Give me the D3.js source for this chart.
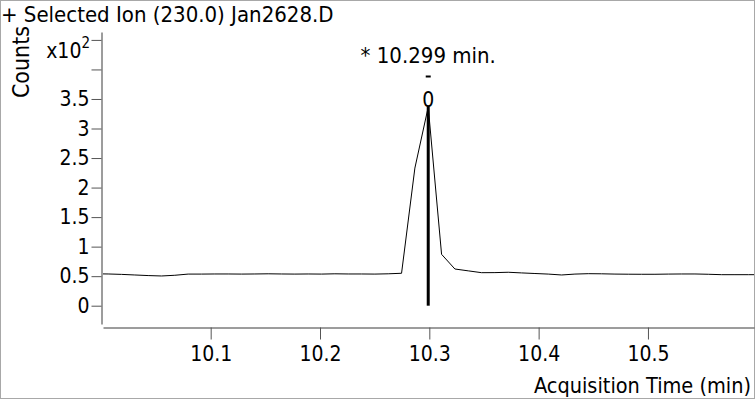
<!DOCTYPE html>
<html>
<head>
<meta charset="utf-8">
<script src="https://cdn.jsdelivr.net/npm/d3@7"></script>
<style>
  html, body { margin: 0; padding: 0; background: #fff; }
  svg { display: block; font-family: "DejaVu Sans Condensed", "DejaVu Sans", sans-serif; }
</style>
</head>
<body>
<svg id="chart" width="756" height="400"></svg>
<script>
// Extracted ion chromatogram, m/z 230.0 (counts in units of 10^2)
const titleText = "+ Selected Ion (230.0) Jan2628.D";
const xAxisTitle = "Acquisition Time (min)";
const yAxisTitle = "Counts";

// Acquisition times (min) of each scan
const scanTimes = [
  9.9940, 10.0062, 10.0184, 10.0306, 10.0428, 10.0550, 10.0672, 10.0794, 10.0916,
  10.1038, 10.1160, 10.1282, 10.1404, 10.1526, 10.1648, 10.1770, 10.1892, 10.2014,
  10.2136, 10.2258, 10.2380, 10.2502, 10.2624, 10.2746, 10.2868, 10.2990, 10.3112,
  10.3234, 10.3356, 10.3478, 10.3600, 10.3722, 10.3844, 10.3966, 10.4088, 10.4210,
  10.4332, 10.4454, 10.4576, 10.4698, 10.4820, 10.4942, 10.5064, 10.5186, 10.5308,
  10.5430, 10.5552, 10.5674, 10.5796, 10.5918, 10.6040
];
// Ion abundance (x10^2 counts) at each scan
const abundance = [
  0.540, 0.537, 0.530, 0.520, 0.510, 0.503, 0.515, 0.535, 0.535,
  0.537, 0.537, 0.535, 0.537, 0.540, 0.537, 0.535, 0.537, 0.535,
  0.540, 0.537, 0.537, 0.535, 0.540, 0.549, 2.330, 3.364, 0.870,
  0.621, 0.590, 0.559, 0.560, 0.566, 0.555, 0.545, 0.535, 0.520,
  0.535, 0.542, 0.540, 0.535, 0.533, 0.532, 0.532, 0.535, 0.537,
  0.537, 0.532, 0.525, 0.525, 0.525, 0.525
];

// Integrated peak
const peakTime = 10.299;
const peakHeight = 3.364;
const peakLabel = "* 10.299 min.";
const peakIndexLabel = "0";

// Axis ticks
const xTicks = [10.1, 10.2, 10.3, 10.4, 10.5];
const yTicks = [0, 0.5, 1, 1.5, 2, 2.5, 3, 3.5, 4, 4.5];
const yTickLabels = ["0", "0.5", "1", "1.5", "2", "2.5", "3", "3.5", "", ""];
const xDomain = [10.0015, 10.597];
const yDomain = [-0.31, 4.634];

const svg = d3.select("#chart");
const axisColor = "#3a3a3a";
const tickFont = 21;
const fontStack = "DejaVu Sans Condensed, DejaVu Sans, sans-serif";

// outer frame
svg.append("rect")
  .attr("x", 0.5).attr("y", 0.5)
  .attr("width", 754).attr("height", 398)
  .attr("fill", "none").attr("stroke", "#a8a8a8").attr("stroke-width", 1);

const x = d3.scaleLinear().domain(xDomain).range([103, 754]);
const y = d3.scaleLinear().domain(yDomain).range([324, 32]);

// Y axis
const yAxis = svg.append("g")
  .attr("transform", "translate(101.5,0)")
  .call(d3.axisLeft(y)
    .tickValues(yTicks)
    .tickFormat((d, i) => yTickLabels[i])
    .tickSize(10)
    .tickSizeOuter(0)
    .tickPadding(2));
yAxis.select(".domain").attr("stroke", axisColor);
yAxis.selectAll(".tick line").attr("stroke", "#555");
yAxis.selectAll(".tick text")
  .attr("font-size", tickFont)
  .attr("font-family", fontStack)
  .attr("fill", "#000");

// exponent label at the top tick
const expLabel = svg.append("text")
  .attr("x", 90)
  .attr("y", y(4.5) + 18)
  .attr("text-anchor", "end")
  .attr("font-size", tickFont)
  .attr("fill", "#000");
expLabel.append("tspan").text("x10");
expLabel.append("tspan")
  .attr("font-size", 15)
  .attr("dy", -10)
  .text("2");

// X axis
const xAxis = svg.append("g")
  .attr("transform", "translate(0,327.5)")
  .call(d3.axisBottom(x)
    .tickValues(xTicks)
    .tickFormat(d3.format(".1f"))
    .tickSize(12)
    .tickSizeOuter(0)
    .tickPadding(7));
xAxis.select(".domain").attr("stroke", axisColor);
xAxis.selectAll(".tick line").attr("stroke", "#555");
xAxis.selectAll(".tick text")
  .attr("font-size", tickFont)
  .attr("font-family", fontStack)
  .attr("fill", "#000");

// Titles
svg.append("text")
  .attr("x", 1).attr("y", 22)
  .attr("font-size", 22)
  .attr("fill", "#000")
  .text(titleText);

svg.append("text")
  .attr("transform", "translate(29,62) rotate(-90)")
  .attr("text-anchor", "middle")
  .attr("font-size", 23)
  .attr("fill", "#000")
  .text(yAxisTitle);

svg.append("text")
  .attr("x", 751).attr("y", 393)
  .attr("text-anchor", "end")
  .attr("font-size", 21.5)
  .attr("fill", "#000")
  .text(xAxisTitle);

// Clip the trace to the plotting region
svg.append("clipPath").attr("id", "plotClip")
  .append("rect").attr("x", 103).attr("y", 0).attr("width", 651).attr("height", 330);

const points = scanTimes.map((t, i) => [t, abundance[i]]);
const line = d3.line().x(d => x(d[0])).y(d => y(d[1]));

svg.append("path")
  .datum(points)
  .attr("clip-path", "url(#plotClip)")
  .attr("d", line)
  .attr("fill", "none")
  .attr("stroke", "#000")
  .attr("stroke-width", 1);

// Peak retention-time marker
svg.append("line")
  .attr("x1", x(peakTime)).attr("x2", x(peakTime))
  .attr("y1", y(0)).attr("y2", y(peakHeight))
  .attr("stroke", "#000")
  .attr("stroke-width", 3);

svg.append("text")
  .attr("x", x(peakTime)).attr("y", y(peakHeight))
  .attr("text-anchor", "middle")
  .attr("font-size", tickFont)
  .attr("fill", "#000")
  .text(peakIndexLabel);

svg.append("line")
  .attr("x1", x(peakTime) - 2.5).attr("x2", x(peakTime) + 2.5)
  .attr("y1", 76.5).attr("y2", 76.5)
  .attr("stroke", "#000")
  .attr("stroke-width", 2);

svg.append("text")
  .attr("x", x(peakTime)).attr("y", 63)
  .attr("text-anchor", "middle")
  .attr("font-size", 22)
  .attr("fill", "#000")
  .text(peakLabel);
</script>
</body>
</html>
